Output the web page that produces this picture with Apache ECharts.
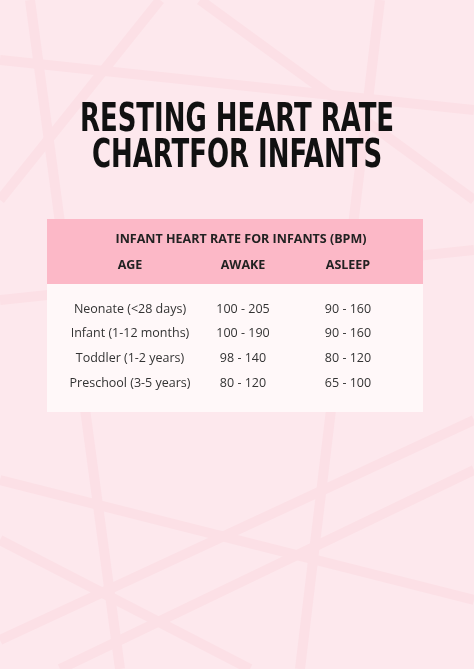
<!DOCTYPE html>
<html>
<head>
<meta charset="utf-8">
<script src="https://cdn.jsdelivr.net/npm/echarts@6/dist/echarts.min.js"></script>
<style>html,body{margin:0;padding:0;background:#fde8ed}#main{width:474px;height:669px}</style>
</head>
<body>
<div id="main"></div>
<script>
var titleLines = ['RESTING HEART RATE', 'CHARTFOR INFANTS'];
var tableTitle = 'INFANT HEART RATE FOR INFANTS (BPM)';
var columns = ['AGE', 'AWAKE', 'ASLEEP'];
var ages = ['Neonate (<28 days)', 'Infant (1-12 months)', 'Toddler (1-2 years)', 'Preschool (3-5 years)'];
var awake = ['100 - 205', '100 - 190', '98 - 140', '80 - 120'];
var asleep = ['90 - 160', '90 - 160', '80 - 120', '65 - 100'];

var colX = [130, 243, 348];
var rowY0 = 309, rowStep = 24.7;
var g = [];

// faint decorative strokes in the background
var strokes = [
  [[0,60],[474,110]], [[30,0],[120,669]], [[0,300],[474,250]], [[380,0],[300,669]],
  [[0,480],[474,600]], [[0,640],[474,420]], [[200,0],[474,200]], [[0,200],[160,0]],
  [[60,669],[474,470]], [[0,540],[250,669]]
];
strokes.forEach(function (s) {
  g.push({type:'polyline', shape:{points:s}, style:{stroke:'#fce0e6', lineWidth:10, fill:null}, silent:true});
});

titleLines.forEach(function (t, i) {
  g.push({type:'text', x:237, y:121 + i * 36, scaleX:0.74, style:{text:t, fill:'#111', font:'bold 39px "DejaVu Sans Condensed"', align:'center', verticalAlign:'middle'}});
});

g.push({type:'rect', shape:{x:47, y:219, width:376, height:65}, style:{fill:'#fcb8c7'}});
g.push({type:'rect', shape:{x:47, y:284, width:376, height:128}, style:{fill:'#fff8f9'}});
g.push({type:'text', x:241, y:239, style:{text:tableTitle, fill:'#222', font:'bold 12.5px "Open Sans"', align:'center', verticalAlign:'middle'}});
columns.forEach(function (c, i) {
  g.push({type:'text', x:colX[i], y:265, style:{text:c, fill:'#222', font:'bold 12.5px "Open Sans"', align:'center', verticalAlign:'middle'}});
});
ages.forEach(function (a, r) {
  [a, awake[r], asleep[r]].forEach(function (v, i) {
    g.push({type:'text', x:colX[i], y:rowY0 + r * rowStep, style:{text:v, fill:'#333', font:'12.5px "Open Sans"', align:'center', verticalAlign:'middle'}});
  });
});

var chart = echarts.init(document.getElementById('main'));
chart.setOption({backgroundColor:'#fde8ed', graphic:g});
</script>
</body>
</html>
